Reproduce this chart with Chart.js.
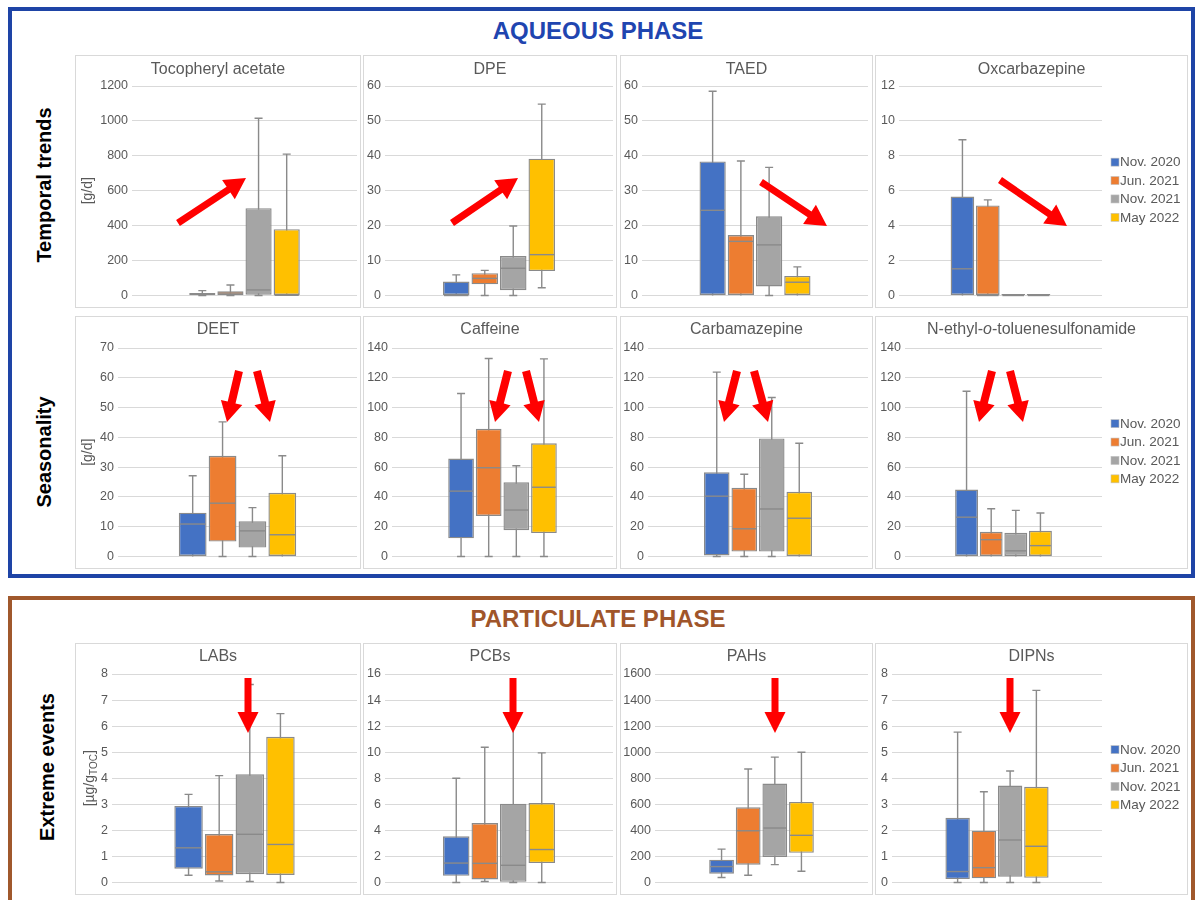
<!DOCTYPE html>
<html>
<head>
<meta charset="utf-8">
<script src="https://cdn.jsdelivr.net/npm/chart.js@4.4.1/dist/chart.umd.min.js"></script>
<style>
  html, body { margin: 0; padding: 0; background: #fff; }
  body { position: relative; width: 1196px; height: 900px; overflow: hidden; font-family: "Liberation Sans", Arial, sans-serif; }
  .frame { position: absolute; box-sizing: border-box; border: 4px solid; }
  .phase { position: absolute; left: 0; width: 1196px; text-align: center; font-weight: bold; font-size: 24px; line-height: 28px; }
  .rowlabel { position: absolute; font-weight: bold; font-size: 20px; color: #000; white-space: nowrap; transform: translate(-50%, -50%) rotate(-90deg); }
  .panel { position: absolute; box-sizing: border-box; border: 1px solid #d9d9d9; background: #fff; }
  .panel canvas { display: block; }
  #arrows { position: absolute; left: 0; top: 0; pointer-events: none; }
</style>
</head>
<body>

<div class="frame" style="left:8px; top:7px; width:1187px; height:571px; border-color:#1e44a6;"></div>
<div class="frame" style="left:8px; top:596px; width:1187px; height:330px; border-color:#a0582c;"></div>
<div class="phase" style="top:17px; color:#1f45b0;">AQUEOUS PHASE</div>
<div class="phase" style="top:605px; color:#a0552a;">PARTICULATE PHASE</div>

<div class="rowlabel" style="left:44px; top:185px;">Temporal trends</div>
<div class="rowlabel" style="left:44px; top:452px;">Seasonality</div>
<div class="rowlabel" style="left:47px; top:767px;">Extreme events</div>

<div id="panels"></div>
<svg id="arrows" width="1196" height="900"></svg>

<script>
// Sampling campaigns (one box per campaign in every panel)
const periods = ['Nov. 2020', 'Jun. 2021', 'Nov. 2021', 'May 2022'];
const periodColors = ['#4472C4', '#ED7D31', '#A5A5A5', '#FFC000'];

// Five-number summaries per campaign: [min, q1, median, q3, max]
const tocopherylAcetate = [[0, 2, 8, 15, 28], [0, 3, 14, 25, 60], [0, 5, 32, 500, 1015], [0, 0, 1, 380, 810]];
const dpe = [[0, 0, 0, 4.0, 5.9], [0, 3.2, 4.9, 6.4, 7.2], [0, 1.5, 7.8, 11.3, 19.9], [2.2, 7.0, 11.7, 39.2, 54.8]];
const taed = [[0, 0, 24.4, 38.4, 58.5], [0, 0, 15.5, 17.3, 38.5], [0, 2.6, 14.5, 22.7, 36.7], [0, 0, 3.8, 5.6, 8.2]];
const oxcarbazepine = [[0, 0, 1.53, 5.67, 8.92], [0, 0, 0, 5.16, 5.48], [0, 0, 0, 0.08, 0.08], [0, 0, 0, 0.08, 0.08]];
const deet = [[0, 0, 10.9, 14.7, 27.1], [0, 5.0, 17.9, 33.8, 45.2], [0, 3.0, 8.6, 11.8, 16.4], [0, 0, 7.3, 21.4, 33.8]];
const caffeine = [[0, 12.2, 43.9, 65.8, 109.4], [0, 27.2, 59.6, 85.7, 132.9], [0, 17.7, 31.2, 49.8, 60.9], [0, 15.7, 46.5, 76.0, 132.7]];
const carbamazepine = [[0, 0.7, 40.5, 56.5, 123.8], [0, 3.3, 18.6, 46.1, 55.2], [0, 3.3, 31.9, 79.3, 106.8], [0, 0, 25.7, 43.4, 76.0]];
const ethylToluenesulfonamide = [[0, 0, 26.4, 45.0, 111.0], [0, 0, 11.3, 16.6, 32.1], [0, 0, 3.8, 15.9, 31.0], [0, 0, 7.3, 17.3, 29.2]];
const labs = [[0.28, 0.53, 1.33, 2.94, 3.38], [0.06, 0.27, 0.41, 1.86, 4.10], [0.04, 0.32, 1.85, 4.15, 7.6], [0, 0.29, 1.46, 5.59, 6.48]];
const pcbs = [[0, 0.51, 1.49, 3.54, 8.0], [0.08, 0.23, 1.47, 4.56, 10.38], [0, 0.05, 1.32, 6.05, 12.2], [0, 1.49, 2.53, 6.10, 9.95]];
const pahs = [[38, 68, 122, 175, 256], [56, 137, 397, 577, 871], [137, 195, 418, 759, 962], [86, 228, 362, 618, 1000]];
const dipns = [[0, 0.13, 0.42, 2.48, 5.77], [0, 0.16, 0.57, 1.99, 3.48], [0, 0.22, 1.63, 3.72, 4.28], [0, 0.18, 1.39, 3.67, 7.37]];

const panelStats = [tocopherylAcetate, dpe, taed, oxcarbazepine, deet, caffeine, carbamazepine,
  ethylToluenesulfonamide, labs, pcbs, pahs, dipns];

// Panel titles (segments flagged italic where needed)
const compoundTitles = [
  [{ t: 'Tocopheryl acetate' }], [{ t: 'DPE' }], [{ t: 'TAED' }], [{ t: 'Oxcarbazepine' }],
  [{ t: 'DEET' }], [{ t: 'Caffeine' }], [{ t: 'Carbamazepine' }],
  [{ t: 'N-ethyl-' }, { t: 'o', italic: true }, { t: '-toluenesulfonamide' }],
  [{ t: 'LABs' }], [{ t: 'PCBs' }], [{ t: 'PAHs' }], [{ t: 'DIPNs' }]
];

// Y axis ranges / tick spacing per panel
const axisMax = [1200, 60, 60, 12, 70, 140, 140, 140, 8, 16, 1600, 8];
const axisStep = [200, 10, 10, 2, 10, 20, 20, 20, 1, 2, 200, 1];

// Unit captions (segments flagged subscript where needed)
const unitAqueous = [{ t: '[g/d]' }];
const unitParticulate = [{ t: '[\u00b5g/g' }, { t: 'TOC', sub: true }, { t: ']' }];

// ---- page layout ----
const colLeft = [75, 363, 620, 875];
const colWidth = [286, 254, 253, 313];
const rowTop = [55, 316, 643];
const rowHeight = [253, 253, 252];
const axisWidth = [[56, 21, 21, 23], [42, 28, 27, 29], [36, 21, 34, 16]];
const padTop = [30, 31, 30];
const padBottom = [9, 10, 9];
const padRight = [3, 3, 4, 85];
const titleY = [14, 13, 13];
const unitX = [12, 12, 14];

const FONT = '"Liberation Sans", Arial, sans-serif';
const TEXT = '#595959';
const EDGE = '#8a8a8a';

// Whiskers behind the boxes, medians on top of them
const boxWhisker = {
  id: 'boxWhisker',
  beforeDatasetsDraw(chart) {
    const ctx = chart.ctx, y = chart.scales.y;
    ctx.save();
    ctx.strokeStyle = EDGE;
    ctx.lineWidth = 1.4;
    chart.data.datasets.forEach((ds, i) => {
      const el = chart.getDatasetMeta(i).data[0];
      const [mn, q1, , q3, mx] = ds.stats;
      const x = el.x;
      ctx.beginPath();
      ctx.moveTo(x, y.getPixelForValue(mn));
      ctx.lineTo(x, y.getPixelForValue(mx));
      if (mx > q3) { const p = y.getPixelForValue(mx); ctx.moveTo(x - 4, p); ctx.lineTo(x + 4, p); }
      if (mn < q1) { const p = y.getPixelForValue(mn); ctx.moveTo(x - 4, p); ctx.lineTo(x + 4, p); }
      ctx.stroke();
    });
    ctx.restore();
  },
  afterDatasetsDraw(chart) {
    const ctx = chart.ctx, y = chart.scales.y;
    ctx.save();
    ctx.strokeStyle = EDGE;
    ctx.lineWidth = 1.4;
    chart.data.datasets.forEach((ds, i) => {
      const el = chart.getDatasetMeta(i).data[0];
      const med = ds.stats[2];
      const p = y.getPixelForValue(med);
      ctx.beginPath();
      ctx.moveTo(el.x - el.width / 2 + 1, p);
      ctx.lineTo(el.x + el.width / 2 - 1, p);
      ctx.stroke();
    });
    ctx.restore();
  }
};

function segFont(seg, size, bold) {
  return (seg.italic ? 'italic ' : '') + (bold ? 'bold ' : '') + size + 'px ' + FONT;
}

// Panel title, unit caption and campaign legend
const panelDecor = {
  id: 'panelDecor',
  afterDraw(chart, args, opts) {
    const ctx = chart.ctx, area = chart.chartArea;
    ctx.save();
    ctx.fillStyle = TEXT;
    ctx.textBaseline = 'middle';
    ctx.textAlign = 'left';
    // title
    let w = 0;
    opts.title.forEach(s => { ctx.font = segFont(s, 16); w += ctx.measureText(s.t).width; });
    let x = chart.width / 2 - w / 2;
    opts.title.forEach(s => { ctx.font = segFont(s, 16); ctx.fillText(s.t, x, opts.titleY); x += ctx.measureText(s.t).width; });
    // unit caption
    if (opts.unit) {
      ctx.save();
      ctx.translate(opts.unitX, (area.top + area.bottom) / 2);
      ctx.rotate(-Math.PI / 2);
      let tw = 0;
      opts.unit.forEach(s => { ctx.font = (s.sub ? 10 : 14) + 'px ' + FONT; tw += ctx.measureText(s.t).width; });
      let ux = -tw / 2;
      opts.unit.forEach(s => {
        ctx.font = (s.sub ? 10 : 14) + 'px ' + FONT;
        ctx.fillText(s.t, ux, s.sub ? 4 : 0);
        ux += ctx.measureText(s.t).width;
      });
      ctx.restore();
    }
    // legend
    if (opts.legend) {
      const n = chart.data.datasets.length, step = 18.4;
      const cy = (area.top + area.bottom) / 2 - 1 - (n - 1) * step / 2;
      ctx.font = '13.5px ' + FONT;
      chart.data.datasets.forEach((ds, i) => {
        const yy = cy + i * step;
        ctx.fillStyle = ds.backgroundColor;
        ctx.fillRect(area.right + 9, yy - 4, 8, 8);
        ctx.strokeStyle = '#bfbfbf';
        ctx.lineWidth = 0.6;
        ctx.strokeRect(area.right + 9, yy - 4, 8, 8);
        ctx.fillStyle = TEXT;
        ctx.fillText(ds.label, area.right + 18, yy + 0.5);
      });
    }
    ctx.restore();
  }
};

const host = document.getElementById('panels');
panelStats.forEach((stats, idx) => {
  const row = Math.floor(idx / 4), col = idx % 4;
  const div = document.createElement('div');
  div.className = 'panel';
  div.style.left = colLeft[col] + 'px';
  div.style.top = rowTop[row] + 'px';
  div.style.width = colWidth[col] + 'px';
  div.style.height = rowHeight[row] + 'px';
  const cw = colWidth[col] - 2, ch = rowHeight[row] - 2;
  const canvas = document.createElement('canvas');
  canvas.width = cw; canvas.height = ch;
  canvas.style.width = cw + 'px'; canvas.style.height = ch + 'px';
  div.appendChild(canvas);
  host.appendChild(div);

  const yw = axisWidth[row][col];
  new Chart(canvas, {
    type: 'bar',
    data: {
      labels: [''],
      datasets: periods.map((p, i) => ({
        label: p,
        data: [[stats[i][1], stats[i][3]]],
        stats: stats[i],
        backgroundColor: periodColors[i],
        borderColor: EDGE,
        borderWidth: 1.4,
        borderSkipped: false,
        categoryPercentage: 0.5,
        barPercentage: 0.93
      }))
    },
    options: {
      responsive: false,
      devicePixelRatio: 1,
      animation: false,
      events: [],
      layout: { padding: { top: padTop[row], bottom: padBottom[row], left: 0, right: padRight[col] } },
      scales: {
        x: { display: false },
        y: {
          min: 0,
          max: axisMax[idx],
          ticks: {
            stepSize: axisStep[idx], color: TEXT, font: { family: FONT, size: 12.5 }, padding: 4,
            callback: v => String(v)
          },
          grid: { color: '#d9d9d9', lineWidth: 1, drawTicks: false },
          border: { display: false },
          afterFit(scale) { scale.width = yw; }
        }
      },
      plugins: {
        legend: { display: false },
        tooltip: { enabled: false },
        panelDecor: {
          title: compoundTitles[idx],
          titleY: titleY[row],
          unit: col === 0 ? (row < 2 ? unitAqueous : unitParticulate) : null,
          unitX: unitX[row],
          legend: col === 3
        }
      }
    },
    plugins: [boxWhisker, panelDecor]
  });
});

// Trend markers: [tailX, tailY, tipX, tipY, shaft, headWidth, headLength]
const trendArrows = [
  [178, 223, 246, 178, 7, 23, 21], [452, 223, 518, 178, 7, 23, 21],
  [761, 182, 827, 226, 7, 23, 21], [1000, 180, 1067, 226, 7, 23, 21],
  [239, 371, 227, 422, 8, 22, 20], [257, 371, 270, 422, 8, 22, 20],
  [508, 371, 495, 422, 8, 22, 20], [526, 371, 539, 422, 8, 22, 20],
  [737, 371, 724, 422, 8, 22, 20], [754, 371, 768, 422, 8, 22, 20],
  [992, 371, 979, 422, 8, 22, 20], [1010, 371, 1023, 422, 8, 22, 20],
  [248, 678, 248, 733, 7, 21, 21], [513, 678, 513, 733, 7, 21, 21],
  [775, 678, 775, 733, 7, 21, 21], [1010, 678, 1010, 733, 7, 21, 21]
];
const svg = document.getElementById('arrows');
trendArrows.forEach(([x1, y1, x2, y2, s, hw, hl]) => {
  const dx = x2 - x1, dy = y2 - y1, L = Math.hypot(dx, dy);
  const ux = dx / L, uy = dy / L, nx = -uy, ny = ux;
  const bx = x2 - ux * hl, by = y2 - uy * hl;
  const pts = [
    [x1 + nx * s / 2, y1 + ny * s / 2], [bx + nx * s / 2, by + ny * s / 2], [bx + nx * hw / 2, by + ny * hw / 2],
    [x2, y2], [bx - nx * hw / 2, by - ny * hw / 2], [bx - nx * s / 2, by - ny * s / 2], [x1 - nx * s / 2, y1 - ny * s / 2]
  ];
  const poly = document.createElementNS('http://www.w3.org/2000/svg', 'polygon');
  poly.setAttribute('points', pts.map(p => p[0].toFixed(1) + ',' + p[1].toFixed(1)).join(' '));
  poly.setAttribute('fill', '#ff0000');
  svg.appendChild(poly);
});
</script>
</body>
</html>
